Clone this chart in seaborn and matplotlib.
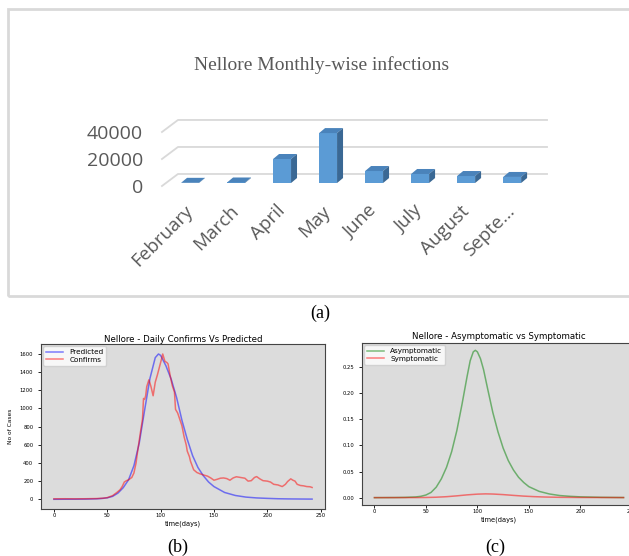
import matplotlib
matplotlib.use("Agg")
import matplotlib.pyplot as plt
from matplotlib.patches import Polygon, Rectangle
import seaborn as sns

W, H = 629, 556

# (a) monthly infections
MONTHS = ["February", "March", "April", "May", "June", "July", "August", "Septe..."]
MONTHLY_CASES = [150, 400, 17800, 37000, 8900, 6700, 5200, 4500]
A_TICKS = [0, 20000, 40000]

# (b) daily confirms vs predicted
PRED_DAYS = [0, 10, 20, 30, 40, 45, 50, 55, 60, 65, 70, 75, 80, 85, 90, 95, 98,
             100, 105, 110, 115, 120, 125, 130, 135, 140, 145, 150, 160, 170,
             180, 190, 200, 210, 220, 230, 242]
PREDICTED = [0, 0.5, 1, 2, 5, 9, 16, 32, 68, 128, 215, 370, 620, 980, 1330, 1560,
             1600, 1585, 1470, 1320, 1120, 870, 660, 480, 350, 260, 190, 140, 75,
             42, 24, 15, 10, 6, 4, 3, 2]
CONF_DAYS = [0, 10, 20, 30, 40, 46, 50, 55, 59, 62, 64, 66, 68, 70, 73, 75, 77,
             78, 80, 81, 83, 84, 85, 86, 87, 89, 90, 91, 93, 95, 97, 99, 101, 102,
             104, 106, 107, 109, 111, 113, 114, 116, 118, 120, 122, 124, 125, 127,
             128, 131, 134, 137, 141, 144, 147, 150, 153, 156, 159, 162, 165, 168,
             171, 175, 179, 182, 185, 188, 190, 193, 196, 200, 203, 206, 210, 214,
             217, 219, 222, 224, 226, 228, 231, 234, 237, 240, 242]
CONFIRMS = [5, 6, 5, 6, 8, 12, 18, 40, 75, 105, 140, 190, 205, 215, 240, 290, 400,
            490, 650, 730, 880, 1110, 1100, 1140, 1240, 1315, 1280, 1240, 1140,
            1290, 1370, 1460, 1550, 1600, 1520, 1505, 1490, 1360, 1250, 1180, 990,
            950, 880, 810, 690, 600, 530, 470, 420, 325, 295, 280, 265, 255, 235,
            210, 220, 232, 235, 228, 210, 235, 248, 240, 232, 200, 205, 240, 250,
            225, 205, 200, 190, 165, 158, 140, 165, 195, 225, 210, 200, 165, 152,
            148, 140, 138, 130]

# (c) asymptomatic vs symptomatic
ASYM_DAYS = [0, 20, 30, 40, 45, 50, 55, 60, 65, 70, 75, 80, 85, 90, 93, 96, 98,
             100, 103, 106, 110, 115, 120, 125, 130, 135, 140, 145, 150, 160, 170,
             180, 190, 200, 220, 242]
ASYMPTOMATIC = [0, 0.0002, 0.0005, 0.0013, 0.0025, 0.005, 0.010, 0.020, 0.036,
                0.058, 0.088, 0.128, 0.178, 0.232, 0.262, 0.279, 0.282, 0.279,
                0.266, 0.245, 0.208, 0.163, 0.126, 0.095, 0.071, 0.053, 0.039,
                0.029, 0.021, 0.012, 0.007, 0.004, 0.0025, 0.0015, 0.0006, 0.0002]
SYM_DAYS = [0, 40, 50, 60, 70, 80, 90, 100, 108, 115, 125, 135, 145, 155, 165,
            180, 200, 242]
SYMPTOMATIC = [0, 0.0001, 0.0003, 0.0008, 0.0018, 0.0034, 0.0053, 0.0067, 0.0072,
               0.0069, 0.0058, 0.0043, 0.0029, 0.0019, 0.0012, 0.0006, 0.0003,
               0.0001]
DAY_TICKS = [0, 50, 100, 150, 200, 250]


def px_box(x0, y0, x1, y1):
    # pixel box (top-left origin) -> figure fraction rect
    return [x0 / W, 1 - y1 / H, (x1 - x0) / W, (y1 - y0) / H]


fig = plt.figure(figsize=(W / 100, H / 100), dpi=100)
serif = ["Liberation Serif", "DejaVu Serif"]
sans = ["Open Sans", "DejaVu Sans"]
grey = "#595959"

# ---- panel (a): fake 3d excel column chart ----
fig.add_artist(Rectangle((8 / W, 1 - 296 / H), 640 / W, 287 / H,
                         transform=fig.transFigure, fill=False,
                         ec="#d9d9d9", lw=2))
fig.text(322 / W, 1 - 65 / H, "Nellore Monthly-wise infections", ha="center",
         va="center", fontsize=14, color=grey, family=serif)

ax_a = fig.add_axes(px_box(150, 100, 560, 200))
wall_dx, wall_dy = 0.348, 8900
bar_lift = 2200
depth_dx, depth_dy = 0.13, 3700
grid_x0, grid_x1 = -0.61, 7.41
for yv in A_TICKS:
    ax_a.plot([grid_x0, grid_x0 + wall_dx, grid_x1 + wall_dx],
              [yv, yv + wall_dy, yv + wall_dy], color="#d9d9d9", lw=1.3, zorder=0)

sns.barplot(x=MONTHS, y=MONTHLY_CASES, ax=ax_a, color="#5b9bd5", width=0.39,
            saturation=1, zorder=2)
for p in list(ax_a.patches):
    x0, w, h = p.get_x(), p.get_width(), p.get_height()
    p.set_y(bar_lift)
    p.set_linewidth(0)
    top = bar_lift + h
    ax_a.add_patch(Polygon([(x0, top), (x0 + w, top), (x0 + w + depth_dx, top + depth_dy),
                            (x0 + depth_dx, top + depth_dy)], closed=True,
                           fc="#4a83bb", ec="none", zorder=3))
    ax_a.add_patch(Polygon([(x0 + w, bar_lift), (x0 + w + depth_dx, bar_lift + depth_dy),
                            (x0 + w + depth_dx, top + depth_dy), (x0 + w, top)],
                           closed=True, fc="#3a6894", ec="none", zorder=3))

ax_a.set_xlim(-0.87, 8.04)
ax_a.set_ylim(-10370, 63700)
ax_a.set_yticks(A_TICKS)
ax_a.set_yticklabels([str(t) for t in A_TICKS])
ax_a.set_xlabel("")
ax_a.set_ylabel("")
ax_a.tick_params(axis="both", length=0, colors=grey, labelsize=14)
ax_a.tick_params(axis="x", labelsize=13.5, pad=6)
ax_a.tick_params(axis="y", pad=5)
for lbl in ax_a.get_xticklabels() + ax_a.get_yticklabels():
    lbl.set_family(sans)
for lbl in ax_a.get_xticklabels():
    lbl.set(rotation=45, ha="right", va="center", rotation_mode="anchor")
for s in ax_a.spines.values():
    s.set_visible(False)
ax_a.patch.set_alpha(0)

fig.text(320 / W, 1 - 313 / H, "(a)", ha="center", va="center", fontsize=13,
         family=serif)


# ---- panels (b) and (c): matplotlib line plots ----
def style_small(ax, title, title_pad):
    ax.set_facecolor("#dcdcdc")
    ax.set_title(title, fontsize=6.2, pad=title_pad)
    ax.set_xlabel("time(days)", fontsize=4.8, labelpad=1.5)
    ax.set_xticks(DAY_TICKS)
    ax.tick_params(axis="x", length=2, width=0.6, pad=1, labelsize=3.8)
    ax.tick_params(axis="y", length=2.5, width=0.6, pad=3, labelsize=3.8)
    for s in ax.spines.values():
        s.set_color("#444444")
        s.set_linewidth(0.8)
    ax.legend(loc="upper left", fontsize=5.2, borderaxespad=0.3,
              handlelength=2.4, labelspacing=0.25)


ax_b = fig.add_axes(px_box(41, 344, 325, 509))
sns.lineplot(x=PRED_DAYS, y=PREDICTED, ax=ax_b, color="blue", alpha=0.5, lw=1.1,
             label="Predicted")
sns.lineplot(x=CONF_DAYS, y=CONFIRMS, ax=ax_b, color="red", alpha=0.5, lw=1.1,
             label="Confirms")
ax_b.set_xlim(-12.1, 254.1)
ax_b.set_ylim(-107, 1710)
ax_b.set_yticks(range(0, 1601, 200))
ax_b.set_ylabel("No of Cases", fontsize=4.2, labelpad=5)
style_small(ax_b, "Nellore - Daily Confirms Vs Predicted", 0.8)

ax_c = fig.add_axes(px_box(362, 343, 636, 505))
sns.lineplot(x=ASYM_DAYS, y=ASYMPTOMATIC, ax=ax_c, color="green", alpha=0.5,
             lw=1.1, label="Asymptomatic")
sns.lineplot(x=SYM_DAYS, y=SYMPTOMATIC, ax=ax_c, color="red", alpha=0.5, lw=1.1,
             label="Symptomatic")
ax_c.set_xlim(-12.1, 254.1)
ax_c.set_ylim(-0.0141, 0.296)
ax_c.set_yticks([0, 0.05, 0.10, 0.15, 0.20, 0.25])
style_small(ax_c, "Nellore - Asymptomatic vs Symptomatic", 3)

fig.text(178 / W, 1 - 547 / H, "(b)", ha="center", va="center", fontsize=13,
         family=serif)
fig.text(495 / W, 1 - 547 / H, "(c)", ha="center", va="center", fontsize=13,
         family=serif)

fig.savefig("out.png", dpi=100)
